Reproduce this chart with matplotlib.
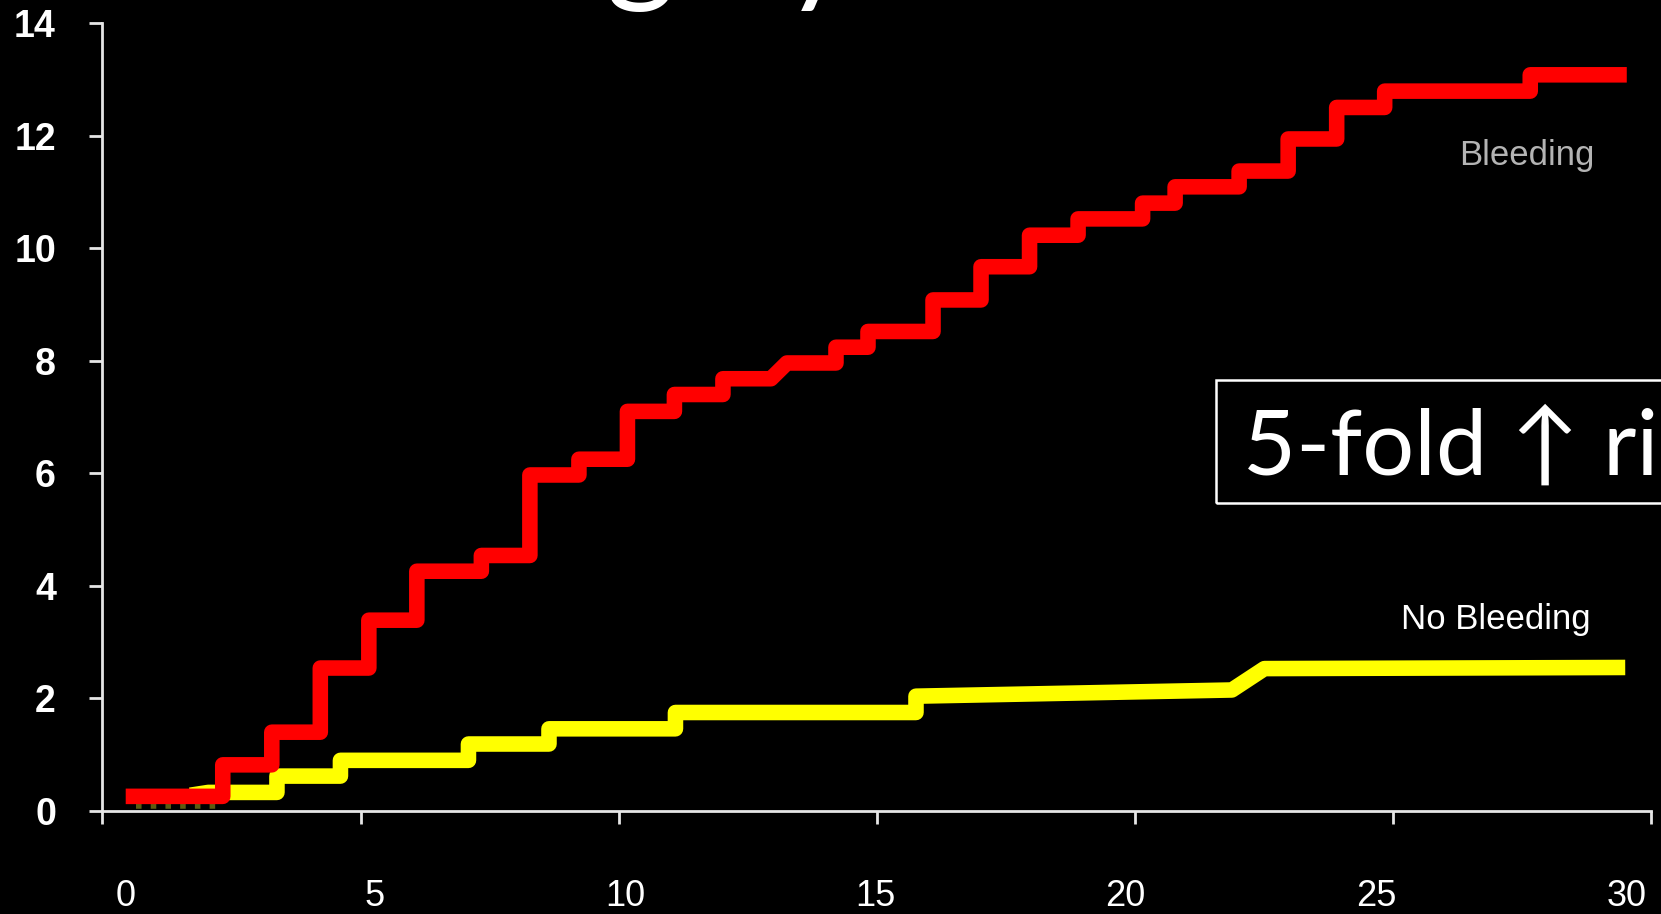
import matplotlib
matplotlib.use('Agg')
import matplotlib.pyplot as plt
from matplotlib.patches import Rectangle

# cumulative event curves (x = days, y = %)
red_x = [0.45, 2.33, 2.33, 3.28, 3.28, 4.22, 4.22, 5.16, 5.16, 6.09, 6.09, 7.34, 7.34, 8.28, 8.28,
         9.23, 9.23, 10.17, 10.17, 11.08, 11.08, 12.02, 12.02, 12.95, 13.26, 14.21, 14.21, 14.83,
         14.83, 16.09, 16.09, 17.02, 17.02, 17.96, 17.96, 18.90, 18.90, 20.15, 20.15, 20.78, 20.78,
         22.02, 22.02, 22.97, 22.97, 23.91, 23.91, 24.84, 24.84, 27.66, 27.66, 29.53]
red_y = [0.26, 0.26, 0.82, 0.82, 1.40, 1.40, 2.54, 2.54, 3.39, 3.39, 4.26, 4.26, 4.54, 4.54, 5.97,
         5.97, 6.25, 6.25, 7.10, 7.10, 7.40, 7.40, 7.68, 7.68, 7.96, 7.96, 8.24, 8.24,
         8.52, 8.52, 9.08, 9.08, 9.67, 9.67, 10.23, 10.23, 10.52, 10.52, 10.80, 10.80, 11.09,
         11.09, 11.37, 11.37, 11.94, 11.94, 12.50, 12.50, 12.79, 12.79, 13.08, 13.08]

yellow_x = [1.7, 2.05, 3.38, 3.38, 4.61, 4.61, 7.09, 7.09, 8.65, 8.65, 11.10, 11.10, 15.76, 15.76,
            21.88, 22.51, 29.5]
yellow_y = [0.28, 0.33, 0.33, 0.62, 0.62, 0.90, 0.90, 1.19, 1.19, 1.46, 1.46, 1.75, 1.75, 2.04,
            2.15, 2.53, 2.55]

shadow_x = [0.65, 2.3]
shadow_y = [0.08, 0.08]

x_ticks = [0, 5, 10, 15, 20, 25, 30]
x_label_pos = [0.44, 5.27, 10.12, 14.97, 19.82, 24.68, 29.53]
x_labels = ['0', '5', '10', '15', '20', '25', '30']
y_ticks = [0, 2, 4, 6, 8, 10, 12, 14]

narrow = ['Liberation Sans Narrow', 'Liberation Sans', 'DejaVu Sans']
round_font = ['Lato', 'DejaVu Sans']

fig = plt.figure(figsize=(16.61, 9.14), dpi=100, facecolor='black')
ax = fig.add_axes([0.0617, 0.1127, 0.9323, 0.8621], facecolor='black')

ax.plot(shadow_x, shadow_y, color='#5c5c10', lw=4, ls=':', zorder=2)
ax.plot(yellow_x, yellow_y, color='#ffff00', lw=11.2, solid_joinstyle='round',
        solid_capstyle='butt', zorder=3)
ax.plot(red_x, red_y, color='#ff0000', lw=11.2, solid_joinstyle='round',
        solid_capstyle='butt', zorder=4)

ax.set_xlim(0, 30)
ax.set_ylim(0, 14)
for s in ['top', 'right']:
    ax.spines[s].set_visible(False)
for s in ['left', 'bottom']:
    ax.spines[s].set_color('#e6e6e6')
    ax.spines[s].set_linewidth(2)

ax.set_xticks(x_ticks)
ax.set_xticklabels([''] * len(x_ticks))
ax.set_xticks(x_label_pos, minor=True)
ax.set_xticklabels(x_labels, minor=True, family=narrow, fontsize=26, color='white')
ax.tick_params(axis='x', which='major', direction='out', length=9.5, width=2, color='#e6e6e6')
ax.tick_params(axis='x', which='minor', length=0, pad=49)

ax.set_yticks(y_ticks)
ax.set_yticklabels([str(v) for v in y_ticks], family=narrow, fontsize=27,
                   fontweight='bold', color='white')
ax.tick_params(axis='y', direction='out', length=9.5, width=2, color='#e6e6e6', pad=24)

ax.text(27.6, 11.48, 'Bleeding', family=narrow, fontsize=25, color='#b4b4b4',
        ha='center', va='baseline')
ax.text(27.0, 3.23, 'No Bleeding', family=narrow, fontsize=25, color='white',
        ha='center', va='baseline')

# boxed callout running off the right edge
fig.patches.append(Rectangle((0.7321, 0.4497), 0.35, 0.1346, transform=fig.transFigure,
                             fill=False, edgecolor='white', lw=1.8))
fig.text(1243 / 1661, 1 - 475 / 914, '5-fold \u2191 risk', family=round_font, fontsize=66,
         color='white', ha='left', va='baseline')

# title mostly cut off at the top of the slide
fig.text(0.035, 1.013, 'Death Rates After Bleeding by 30', family=round_font, fontsize=96,
         color='white', ha='center', va='baseline')

fig.savefig('out.png', dpi=100, facecolor='black')
